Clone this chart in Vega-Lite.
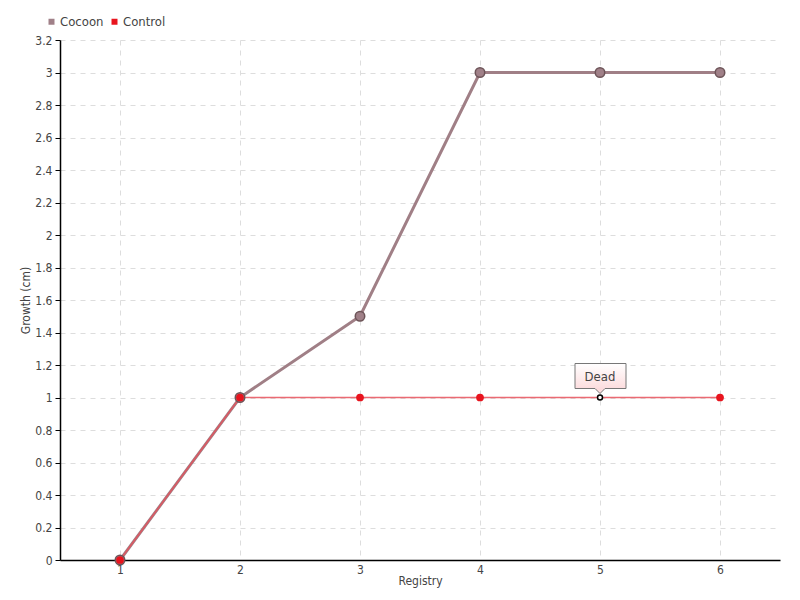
{
  "$schema": "https://vega.github.io/schema/vega-lite/v6.json",
  "width": 720,
  "height": 520,
  "autosize": {"type": "none"},
  "padding": {"left": 60, "top": 40, "right": 20, "bottom": 40},
  "background": "white",
  "config": {
    "font": "DejaVu Sans Condensed, Roboto, sans-serif",
    "view": {"stroke": null},
    "axis": {
      "labelFont": "DejaVu Sans Condensed, Roboto, sans-serif",
      "titleFont": "DejaVu Sans Condensed, Roboto, sans-serif",
      "labelColor": "#444444",
      "titleColor": "#444444",
      "labelFontSize": 12,
      "titleFontSize": 12,
      "titleFontWeight": "normal",
      "domainColor": "#000000",
      "domainWidth": 1.5,
      "tickColor": "#000000",
      "gridColor": "#dddddd",
      "gridDash": [5, 5],
      "gridWidth": 1,
      "labelOverlap": false
    },
    "legend": {
      "labelFont": "DejaVu Sans Condensed, Roboto, sans-serif",
      "labelFontSize": 13,
      "labelColor": "#444444"
    }
  },
  "datasets": {
    "series": [
      {"registry": 1, "growth": 0, "series": "Cocoon"},
      {"registry": 2, "growth": 1, "series": "Cocoon"},
      {"registry": 3, "growth": 1.5, "series": "Cocoon"},
      {"registry": 4, "growth": 3, "series": "Cocoon"},
      {"registry": 5, "growth": 3, "series": "Cocoon"},
      {"registry": 6, "growth": 3, "series": "Cocoon"},
      {"registry": 1, "growth": 0, "series": "Control"},
      {"registry": 2, "growth": 1, "series": "Control"},
      {"registry": 3, "growth": 1, "series": "Control"},
      {"registry": 4, "growth": 1, "series": "Control"},
      {"registry": 5, "growth": 1, "series": "Control"},
      {"registry": 6, "growth": 1, "series": "Control"}
    ],
    "notes": [
      {"registry": 5, "growth": 1, "label": "Dead"}
    ]
  },
  "encoding": {
    "x": {
      "field": "registry", "type": "quantitative",
      "scale": {"domain": [0.5, 6.5], "nice": false, "zero": false},
      "axis": {"title": "Registry", "values": [1, 2, 3, 4, 5, 6], "format": "d", "ticks": false, "labelPadding": 4, "titlePadding": 0}
    },
    "y": {
      "field": "growth", "type": "quantitative",
      "scale": {"domain": [0, 3.2], "nice": false},
      "axis": {"title": "Growth (cm)", "values": [0, 0.2, 0.4, 0.6, 0.8, 1, 1.2, 1.4, 1.6, 1.8, 2, 2.2, 2.4, 2.6, 2.8, 3, 3.2], "tickCount": 17, "format": "~g", "tickSize": 5, "labelPadding": 3, "titlePadding": 2}
    }
  },
  "layer": [
    {
      "data": {"name": "series"},
      "transform": [{"filter": "datum.series === 'Cocoon'"}],
      "mark": {"type": "line", "strokeWidth": 3, "color": "#a07f86"}
    },
    {
      "data": {"name": "series"},
      "transform": [{"filter": "datum.series === 'Control'"}],
      "mark": {"type": "line", "strokeWidth": 1.5, "color": "#e8505a", "opacity": 0.85}
    },
    {
      "data": {"name": "series"},
      "transform": [{"filter": "datum.series === 'Cocoon'"}],
      "mark": {"type": "point", "filled": true, "size": 90, "stroke": "#6d5458", "strokeWidth": 1.5, "opacity": 1},
      "encoding": {
        "color": {
          "field": "series", "type": "nominal",
          "scale": {"domain": ["Cocoon", "Control"], "range": ["#a08088", "#e8141e"]},
          "legend": {"title": null, "orient": "none", "legendX": -15, "legendY": -25, "direction": "horizontal", "symbolType": "square", "symbolSize": 36, "symbolStrokeWidth": 0, "columnPadding": 4, "labelOffset": 2}
        }
      }
    },
    {
      "data": {"name": "series"},
      "transform": [{"filter": "datum.series === 'Control' && datum.registry !== 5"}],
      "mark": {"type": "point", "filled": true, "size": 60, "opacity": 1},
      "encoding": {
        "color": {"field": "series", "type": "nominal"}
      }
    },
    {
      "data": {"name": "notes"},
      "mark": {"type": "point", "filled": true, "size": 25, "color": "#ffffff", "stroke": "#000000", "strokeWidth": 1.5, "opacity": 1}
    },
    {
      "data": {"name": "notes"},
      "mark": {
        "type": "point",
        "shape": "M-25,-34H26V-9H5L0,-4L-5,-9H-25Z",
        "size": 4,
        "filled": true,
        "opacity": 1,
        "stroke": "#777777",
        "strokeWidth": 1,
        "fill": {"gradient": "linear", "x1": 0, "y1": 0, "x2": 0, "y2": 1, "stops": [{"offset": 0, "color": "#ffffff"}, {"offset": 1, "color": "#fcd6d8"}]}
      }
    },
    {
      "data": {"name": "notes"},
      "mark": {"type": "text", "dy": -21, "fontSize": 13, "color": "#444444", "baseline": "middle", "align": "center"},
      "encoding": {
        "text": {"field": "label"}
      }
    }
  ]
}
